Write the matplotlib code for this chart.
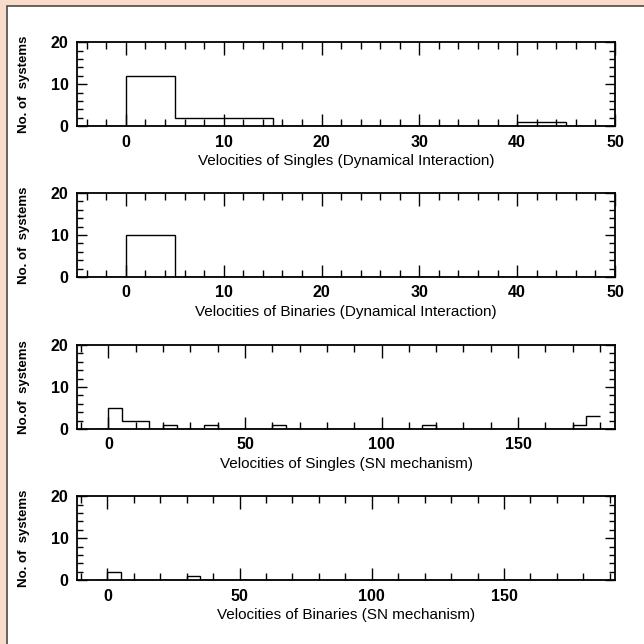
import numpy as np
import matplotlib
matplotlib.use('Agg')
import matplotlib.pyplot as plt
from matplotlib.patches import Rectangle
from matplotlib.ticker import MultipleLocator

# histogram bin edges (width 5 km/s) and counts
edges_dyn = np.arange(-5, 55, 5)
singles_dyn = [0, 12, 2, 2, 0, 0, 0, 0, 0, 1, 0]
binaries_dyn = [0, 10, 0, 0, 0, 0, 0, 0, 0, 0, 0]

edges_sn_singles = np.arange(-5, 185, 5)
singles_sn = np.zeros(len(edges_sn_singles) - 1)
singles_sn_bins = [0, 5, 10, 20, 35, 60, 115, 170, 175]
singles_sn_counts = [5, 2, 2, 1, 1, 1, 1, 1, 3]

edges_sn_binaries = np.arange(-5, 190, 5)
binaries_sn = np.zeros(len(edges_sn_binaries) - 1)
binaries_sn_bins = [0, 30]
binaries_sn_counts = [2, 1]

for b, c in zip(singles_sn_bins, singles_sn_counts):
    singles_sn[list(edges_sn_singles).index(b)] = c
for b, c in zip(binaries_sn_bins, binaries_sn_counts):
    binaries_sn[list(edges_sn_binaries).index(b)] = c

xlabels = ['Velocities of Singles (Dynamical Interaction)',
           'Velocities of Binaries (Dynamical Interaction)',
           'Velocities of Singles (SN mechanism)',
           'Velocities of Binaries (SN mechanism)']
ylabels = ['No. of  systems', 'No. of  systems', 'No.of  systems', 'No. of  systems']

plt.rcParams['font.family'] = ['Liberation Sans', 'DejaVu Sans']

fig = plt.figure(figsize=(6.44, 6.44), dpi=100)
fig.patch.set_facecolor('#f8dccb')
# white inner panel with dark border on top and left
fig.patches.append(Rectangle((7 / 644, -0.05), 1.1, 1.05 - 6 / 644,
                             transform=fig.transFigure, facecolor='white',
                             edgecolor='#4a4a4a', linewidth=1.2, zorder=-10))

panels = [
    (edges_dyn, singles_dyn, (-5, 50), 10, 2),
    (edges_dyn, binaries_dyn, (-5, 50), 10, 2),
    (edges_sn_singles, singles_sn, (-11.5, 185.5), 50, 10),
    (edges_sn_binaries, binaries_sn, (-11.5, 192), 50, 10),
]
bottoms = [0.804, 0.570, 0.334, 0.099]

for i, (edges, counts, xlim, major, minor) in enumerate(panels):
    ax = fig.add_axes([77 / 644, bottoms[i], 538 / 644, 84 / 644])
    ax.stairs(counts, edges, baseline=None, color='black', linewidth=1.0)
    ax.set_xlim(*xlim)
    ax.set_ylim(0, 20)
    ax.xaxis.set_major_locator(MultipleLocator(major))
    ax.xaxis.set_minor_locator(MultipleLocator(minor))
    ax.yaxis.set_major_locator(MultipleLocator(10))
    ax.yaxis.set_minor_locator(MultipleLocator(2))
    ax.tick_params(which='both', direction='in', top=True, right=True,
                   width=1.0, colors='black')
    ax.tick_params(axis='x', which='major', length=9, pad=6)
    ax.tick_params(axis='x', which='minor', length=5)
    ax.tick_params(axis='y', which='major', length=7, pad=6)
    ax.tick_params(axis='y', which='minor', length=4)
    for lab in ax.get_xticklabels() + ax.get_yticklabels():
        lab.set_fontweight('bold')
        lab.set_fontsize(11.5)
    for sp in ax.spines.values():
        sp.set_linewidth(1.3)
    ax.set_xlabel(xlabels[i], fontsize=11)
    ax.xaxis.set_label_coords(0.5, -0.33)
    ax.set_ylabel(ylabels[i], fontsize=9.5, fontweight='bold')
    ax.yaxis.set_label_coords(-0.088, 0.5)

fig.savefig('out.png', dpi=100, facecolor=fig.get_facecolor())
